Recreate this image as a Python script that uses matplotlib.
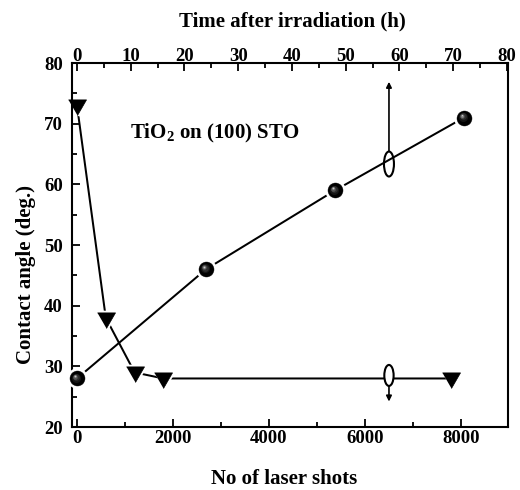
import matplotlib
matplotlib.use("Agg")
import matplotlib.pyplot as plt
from matplotlib.patches import Ellipse
from matplotlib.ticker import MultipleLocator
import matplotlib.transforms as mtransforms

# ---- data ----
shots = [0, 600, 1200, 1800, 7800]          # No of laser shots
angle_shots = [73, 38, 29, 28, 28]          # contact angle vs shots (triangles)
hours = [0, 24, 48, 72]                     # time after irradiation (h)
angle_hours = [28, 46, 59, 71]              # contact angle vs time (spheres)

bottom_ticks = [0, 2000, 4000, 6000, 8000]
top_ticks = [0, 10, 20, 30, 40, 50, 60, 70, 80]
y_ticks = [20, 30, 40, 50, 60, 70, 80]

plt.rcParams['font.family'] = ['Liberation Serif', 'DejaVu Serif']
plt.rcParams['font.weight'] = 'bold'
plt.rcParams['mathtext.fontset'] = 'custom'
plt.rcParams['mathtext.rm'] = 'Liberation Serif:bold'
plt.rcParams['mathtext.bf'] = 'Liberation Serif:bold'

fig = plt.figure(figsize=(5.2, 4.9), dpi=100)
ax = fig.add_axes([72/520, 1-427/490, 436/520, 364/490])
ax2 = ax.twiny()

ax.set_xlim(-104, 8980)
ax2.set_xlim(-0.93, 80.19)
ax.set_ylim(20, 80)

for s in ax2.spines.values():
    s.set_visible(False)
for s in ax.spines.values():
    s.set_linewidth(1.5)

TS = 13.5
ax.set_xticks(bottom_ticks)
ax.xaxis.set_minor_locator(MultipleLocator(1000))
ax.set_yticks(y_ticks)
ax.yaxis.set_minor_locator(MultipleLocator(5))
ax2.set_xticks(top_ticks)
ax2.xaxis.set_minor_locator(MultipleLocator(5))

ax.tick_params(axis='x', which='both', direction='in', top=False, bottom=True, labelsize=TS, pad=2.5, width=1.3)
ax.tick_params(axis='y', which='both', direction='in', left=True, right=False, labelsize=TS, pad=6.5, width=1.3)
ax.tick_params(which='major', length=6)
ax.tick_params(which='minor', length=3.5)
ax2.tick_params(axis='x', which='both', direction='in', top=True, bottom=False, labelsize=TS, pad=-1.5, width=1.3)
ax2.tick_params(which='major', length=6)
ax2.tick_params(which='minor', length=3.5)
for lab in ax.get_xticklabels() + ax.get_yticklabels() + ax2.get_xticklabels():
    lab.set_fontweight('bold')

LS = 15
ax.set_xlabel('No of laser shots', fontsize=LS, fontweight='bold')
ax.xaxis.set_label_coords(0.486, -0.115)
ax.set_ylabel('Contact angle (deg.)', fontsize=LS, fontweight='bold')
ax.yaxis.set_label_coords(-0.083, 0.418)
ax2.set_xlabel('Time after irradiation (h)', fontsize=LS, fontweight='bold')
ax2.xaxis.set_label_coords(0.505, 1.099)

# triangle marker (slightly wider than tall, centred lower)
tri = [(-0.9, 0.56), (0.9, 0.56), (0.0, -1.0)]
TRI_MS = 14.4
LW = 1.45

# ---- triangles vs laser shots (bottom axis) ----
ax.plot(shots, angle_shots, color='black', lw=LW, zorder=2, clip_on=False)
ax.plot(shots, angle_shots, ls='none', marker=tri, ms=TRI_MS, mfc='white', mec='white',
        mew=3.2, zorder=2.2, clip_on=False)
ax.plot(shots, angle_shots, ls='none', marker=tri, ms=TRI_MS, mfc='black', mec='black',
        mew=0.5, zorder=3, clip_on=False)

# ---- spheres vs time (top axis) ----
C_MS = 10.8
ax2.plot(hours, angle_hours, color='black', lw=LW, zorder=2, clip_on=False)
ax2.plot(hours, angle_hours, ls='none', marker='o', ms=C_MS + 4, mfc='white', mec='none',
         zorder=2.2, clip_on=False)
ax2.plot(hours, angle_hours, ls='none', marker='o', ms=C_MS, mfc='black', mec='black',
         mew=0.3, zorder=3, clip_on=False)
# shading highlight to give a 3D ball look
layers = [(6.5, '#151515', 0.6), (4.8, '#2e2e2e', 1.0), (3.3, '#555555', 1.3),
          (2.0, '#8a8a8a', 1.5), (1.0, '#c8c8c8', 1.6)]
for ms, col, off in layers:
    tr = mtransforms.offset_copy(ax2.transData, fig=fig, x=-off, y=off, units='points')
    ax2.plot(hours, angle_hours, ls='none', marker='o', ms=ms, mfc=col, mec='none',
             transform=tr, zorder=3.1, clip_on=False)

# ---- axis indicators (ellipses with arrows) ----
ax.add_patch(Ellipse((6500, 63.35), width=208, height=4.12, fill=False, lw=1.5,
                     ec='black', zorder=4))
ax.annotate('', xy=(6500, 76.9), xytext=(6500, 63.35 + 2.06),
            arrowprops=dict(arrowstyle='-|>', lw=1.2, color='black', mutation_scale=8,
                            shrinkA=0, shrinkB=0), zorder=4)
ax.add_patch(Ellipse((6500, 28.5), width=194, height=3.46, fill=True, lw=0,
                     fc='white', zorder=3.9))
ax.add_patch(Ellipse((6500, 28.5), width=194, height=3.46, fill=False, lw=1.5,
                     ec='black', zorder=4))
ax.annotate('', xy=(6500, 24.2), xytext=(6500, 28.5 - 1.73),
            arrowprops=dict(arrowstyle='-|>', lw=1.2, color='black', mutation_scale=8,
                            shrinkA=0, shrinkB=0), zorder=4)

ax.text(0.132, 0.793, r'TiO$_2$ on (100) STO', transform=ax.transAxes, fontsize=15,
        fontweight='bold', ha='left', va='baseline')

fig.savefig('out.png', dpi=100)
